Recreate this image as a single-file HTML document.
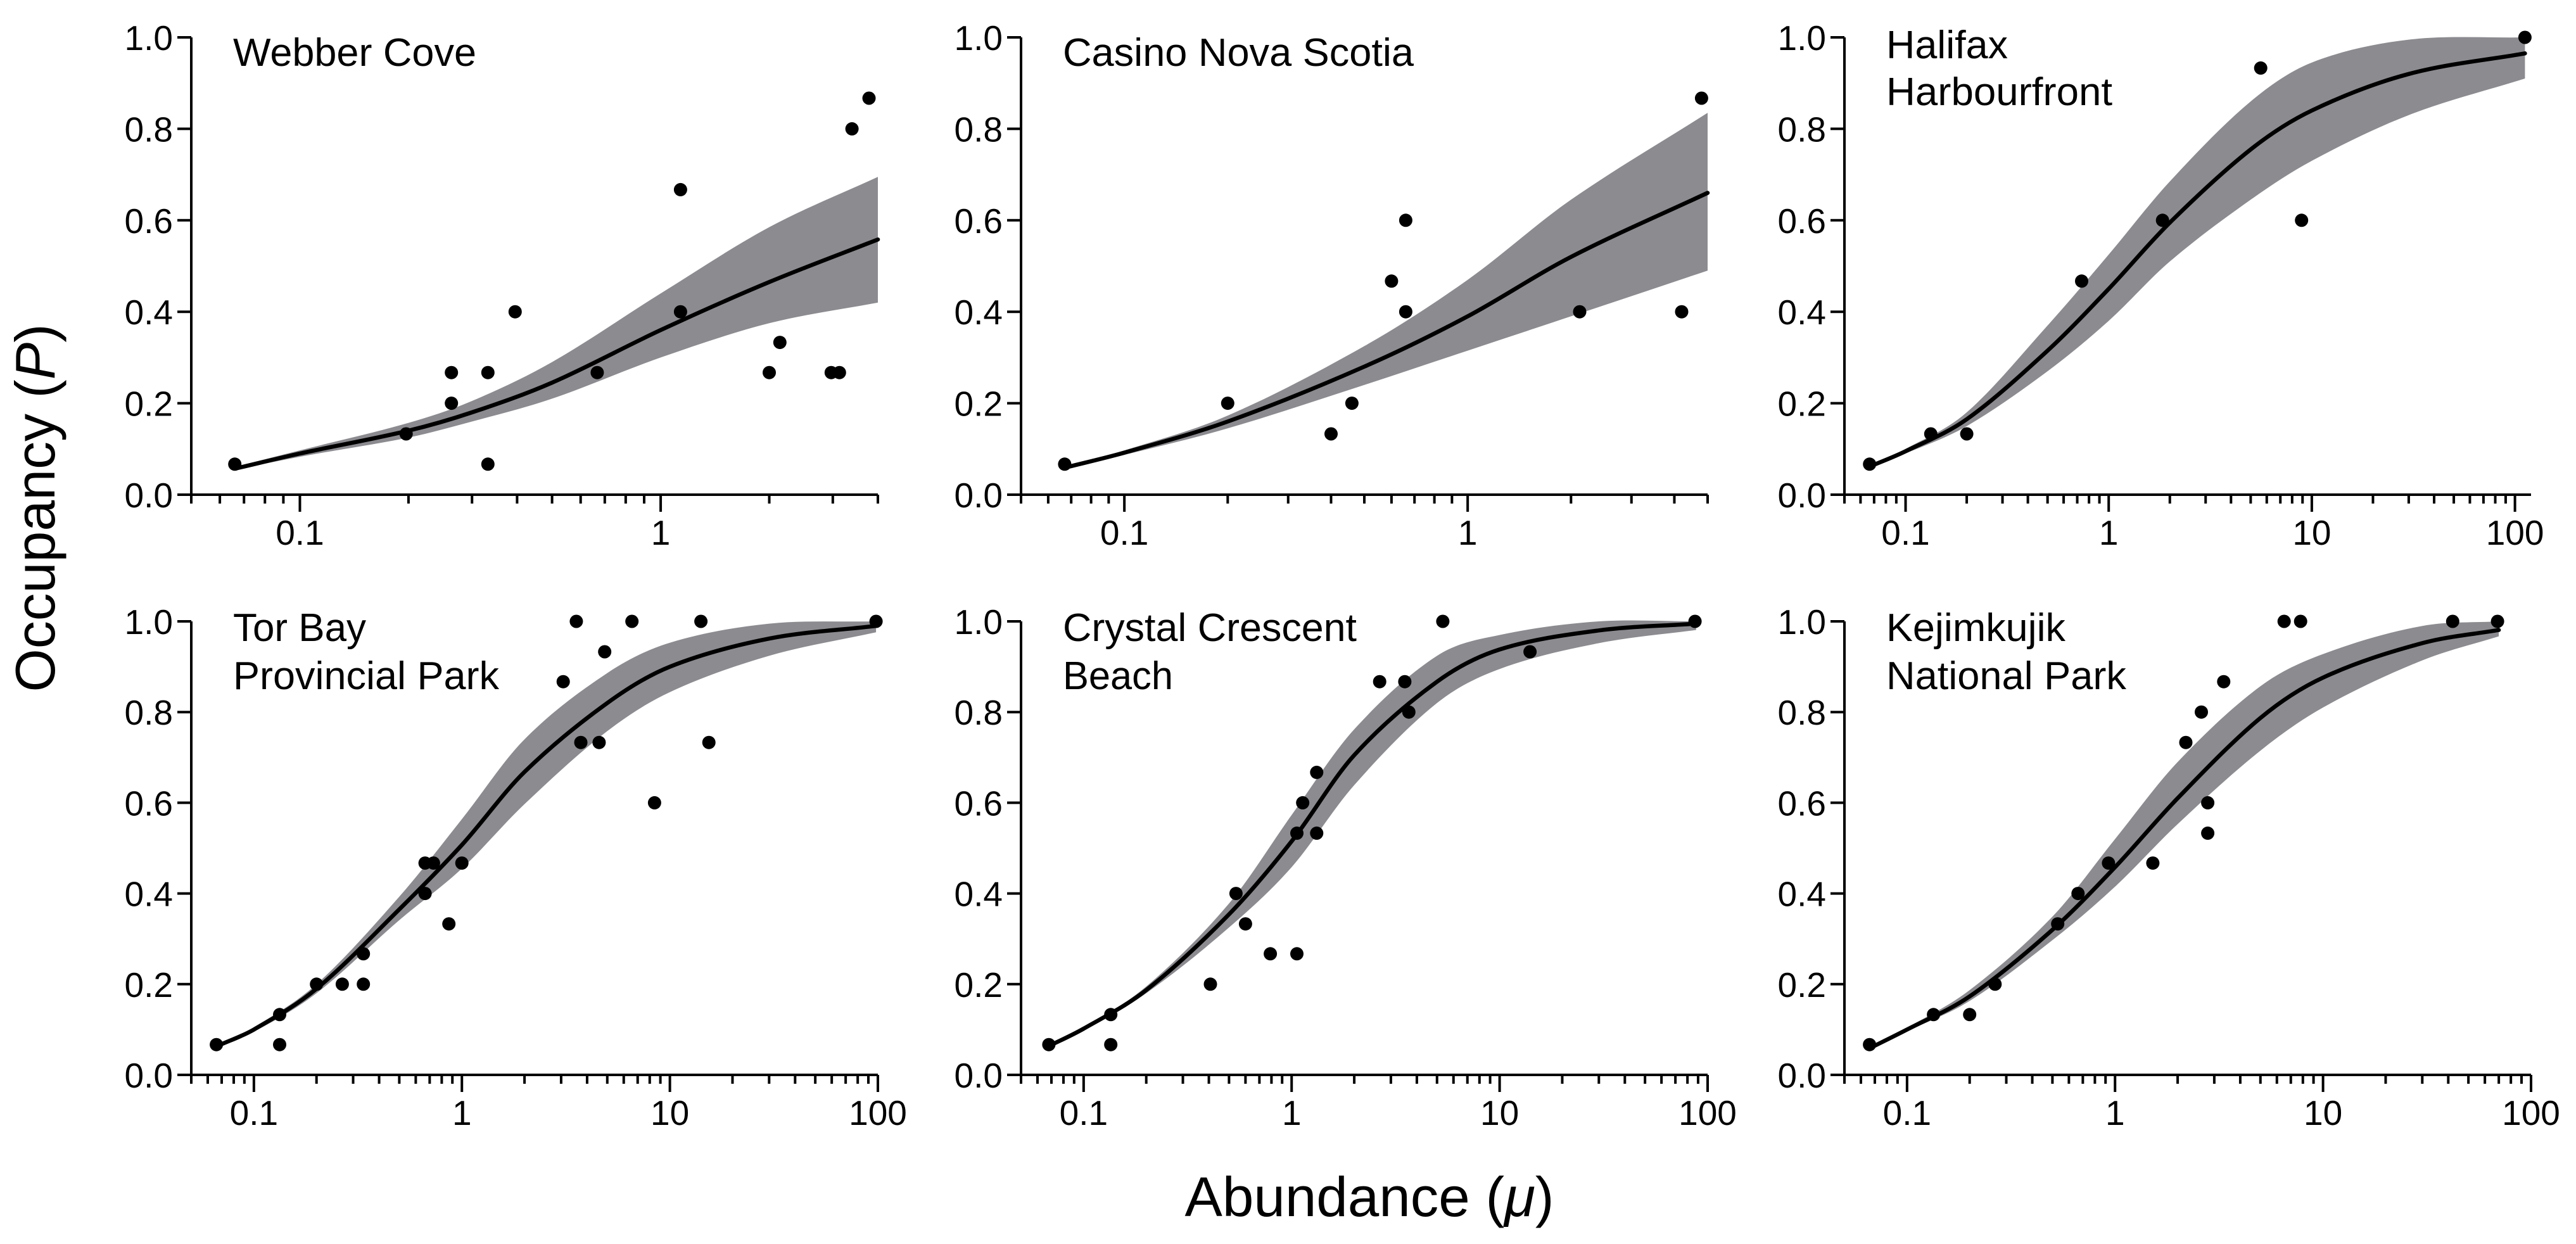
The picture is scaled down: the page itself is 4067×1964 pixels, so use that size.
<!DOCTYPE html>
<html><head><meta charset="utf-8"><title>Occupancy vs Abundance</title>
<style>
html,body{margin:0;padding:0;background:#fff;}
svg{display:block;font-family:"Liberation Sans",Arial,sans-serif;}
</style></head>
<body>
<svg id="fig" width="4067" height="1964" viewBox="0 0 4067 1964" xmlns="http://www.w3.org/2000/svg">
<rect x="0" y="0" width="4067" height="1964" fill="#fff"/>
<text x="0" y="0" font-size="88" text-anchor="middle" textLength="581" lengthAdjust="spacingAndGlyphs" transform="translate(86,802) rotate(-90)">Occupancy (<tspan font-style="italic">P</tspan>)</text>
<text x="2162" y="1920" font-size="88" text-anchor="middle" textLength="583" lengthAdjust="spacingAndGlyphs">Abundance (<tspan font-style="italic">μ</tspan>)</text>
</svg>
<script>
// ---- Data ----
const titlesWebber = ["Webber Cove"];
const titlesCasino = ["Casino Nova Scotia"];
const titlesHalifax = ["Halifax", "Harbourfront"];
const titlesTor = ["Tor Bay", "Provincial Park"];
const titlesCrystal = ["Crystal Crescent", "Beach"];
const titlesKeji = ["Kejimkujik", "National Park"];

const yTickValues = [0, 0.2, 0.4, 0.6, 0.8, 1.0];
const yTickLabels = ["0.0", "0.2", "0.4", "0.6", "0.8", "1.0"];
const xMajorValues = [0.1, 1, 10, 100];
const xMajorLabels = ["0.1", "1", "10", "100"];

// Webber Cove
const webberPtsX = [0.066,0.197,0.263,0.263,0.332,0.332,0.395,0.667,1.135,1.135,2.0,2.14,2.97,3.13,3.39,3.78];
const webberPtsY = [0.0667,0.133,0.267,0.2,0.267,0.0667,0.4,0.267,0.667,0.4,0.267,0.333,0.267,0.267,0.8,0.867];
const webberCurveX = [0.067,0.1,0.2,0.3,0.5,1,2,4];
const webberFit = [0.058,0.09,0.14,0.18,0.245,0.36,0.465,0.558];
const webberUpper = [0.062,0.097,0.157,0.205,0.29,0.44,0.585,0.695];
const webberLower = [0.055,0.083,0.125,0.16,0.21,0.30,0.375,0.42];

// Casino Nova Scotia
const casinoPtsX = [0.067,0.2,0.4,0.46,0.6,0.66,0.66,2.12,4.2,4.8];
const casinoPtsY = [0.0667,0.2,0.133,0.2,0.467,0.6,0.4,0.4,0.4,0.867];
const casinoCurveX = [0.067,0.1,0.2,0.5,1,2,5];
const casinoFit = [0.059,0.092,0.16,0.28,0.39,0.52,0.66];
const casinoUpper = [0.062,0.097,0.173,0.325,0.47,0.645,0.835];
const casinoLower = [0.056,0.087,0.145,0.24,0.315,0.39,0.49];

// Halifax Harbourfront
const halifaxPtsX = [0.0665,0.133,0.2,0.736,1.84,5.6,8.9,112];
const halifaxPtsY = [0.0667,0.133,0.133,0.467,0.6,0.933,0.6,1.0];
const halifaxCurveX = [0.067,0.1,0.2,0.5,1,2,5,10,30,112];
const halifaxFit = [0.062,0.095,0.165,0.315,0.45,0.595,0.755,0.84,0.92,0.965];
const halifaxUpper = [0.064,0.10,0.18,0.37,0.525,0.685,0.86,0.945,0.995,1.0];
const halifaxLower = [0.06,0.09,0.15,0.27,0.38,0.51,0.645,0.73,0.83,0.91];

// Tor Bay Provincial Park
const torPtsX = [0.066,0.133,0.133,0.2,0.266,0.336,0.336,0.665,0.73,0.665,0.866,1.0,3.07,3.55,3.73,4.57,4.86,6.57,8.44,14.1,15.4,98];
const torPtsY = [0.0667,0.133,0.0667,0.2,0.2,0.267,0.2,0.467,0.467,0.4,0.333,0.467,0.867,1.0,0.733,0.733,0.933,1.0,0.6,1.0,0.733,1.0];
const torCurveX = [0.067,0.1,0.2,0.5,1,2,5,10,30,98];
const torFit = [0.064,0.1,0.19,0.365,0.507,0.668,0.82,0.9,0.962,0.99];
const torUpper = [0.066,0.105,0.2,0.393,0.564,0.74,0.886,0.953,0.995,1.0];
const torLower = [0.062,0.095,0.18,0.341,0.455,0.597,0.758,0.844,0.924,0.976];

// Crystal Crescent Beach
const crystalPtsX = [0.068,0.135,0.135,0.407,0.54,0.6,0.79,1.06,1.06,1.13,1.32,1.32,2.65,3.5,3.66,5.33,14,87];
const crystalPtsY = [0.0667,0.133,0.0667,0.2,0.4,0.333,0.267,0.533,0.267,0.6,0.667,0.533,0.867,0.867,0.8,1.0,0.933,1.0];
const crystalCurveX = [0.067,0.1,0.2,0.5,1,2,5,10,30,88];
const crystalFit = [0.062,0.102,0.187,0.354,0.515,0.705,0.867,0.938,0.98,0.995];
const crystalUpper = [0.064,0.105,0.195,0.378,0.573,0.762,0.924,0.97,1.0,1.0];
const crystalLower = [0.06,0.098,0.18,0.325,0.458,0.639,0.82,0.895,0.952,0.981];

// Kejimkujik National Park
const kejiPtsX = [0.066,0.134,0.2,0.265,0.53,0.664,0.93,1.52,2.19,2.6,2.79,2.79,3.33,6.5,7.8,42,69];
const kejiPtsY = [0.0667,0.133,0.133,0.2,0.333,0.4,0.467,0.467,0.733,0.8,0.6,0.533,0.867,1.0,1.0,1.0,1.0];
const kejiCurveX = [0.067,0.1,0.2,0.5,1,2,5,10,30,70];
const kejiFit = [0.06,0.1,0.173,0.32,0.458,0.61,0.787,0.876,0.952,0.981];
const kejiUpper = [0.062,0.104,0.187,0.349,0.52,0.69,0.857,0.928,0.99,1.0];
const kejiLower = [0.058,0.096,0.163,0.297,0.415,0.553,0.715,0.81,0.914,0.967];

// ---- Layout ----
const NS = "http://www.w3.org/2000/svg";
const svg = document.getElementById("fig");
const PW = 1084;
const panels = [
  {name:"webber-cove", left:302, top:59, bottom:781, xmax:4, titles:titlesWebber, tb:[104], px:webberPtsX, py:webberPtsY, cx:webberCurveX, fit:webberFit, up:webberUpper, lo:webberLower},
  {name:"casino-nova-scotia", left:1612, top:59, bottom:781, xmax:5, titles:titlesCasino, tb:[104], px:casinoPtsX, py:casinoPtsY, cx:casinoCurveX, fit:casinoFit, up:casinoUpper, lo:casinoLower},
  {name:"halifax-harbourfront", left:2912, top:59, bottom:781, xmax:120, titles:titlesHalifax, tb:[92,166], px:halifaxPtsX, py:halifaxPtsY, cx:halifaxCurveX, fit:halifaxFit, up:halifaxUpper, lo:halifaxLower},
  {name:"tor-bay", left:302, top:981, bottom:1697, xmax:100, titles:titlesTor, tb:[1012,1088], px:torPtsX, py:torPtsY, cx:torCurveX, fit:torFit, up:torUpper, lo:torLower},
  {name:"crystal-crescent", left:1612, top:981, bottom:1697, xmax:100, titles:titlesCrystal, tb:[1012,1088], px:crystalPtsX, py:crystalPtsY, cx:crystalCurveX, fit:crystalFit, up:crystalUpper, lo:crystalLower},
  {name:"kejimkujik", left:2912, top:981, bottom:1697, xmax:100, titles:titlesKeji, tb:[1012,1088], px:kejiPtsX, py:kejiPtsY, cx:kejiCurveX, fit:kejiFit, up:kejiUpper, lo:kejiLower}
];
const titleWidths = {"Webber Cove":384,"Casino Nova Scotia":554,"Halifax":192,"Harbourfront":357,"Tor Bay":210,"Provincial Park":420,"Crystal Crescent":464,"Beach":174,"Kejimkujik":283,"National Park":379};
const XMIN = 0.05;

function mk(tag, attrs, parent){
  const e = document.createElementNS(NS, tag);
  for (const k in attrs) e.setAttribute(k, attrs[k]);
  parent.appendChild(e);
  return e;
}
// Monotone-x cubic Hermite through points (x increasing or decreasing), returns segments without M
function hermiteSegs(pts){
  const n = pts.length;
  const m = [];
  for (let i=0;i<n;i++){
    const a = pts[Math.max(0,i-1)], b = pts[Math.min(n-1,i+1)];
    m.push((b[1]-a[1])/(b[0]-a[0]));
  }
  let d = "";
  for (let i=0;i<n-1;i++){
    const p1=pts[i], p2=pts[i+1], dx=(p2[0]-p1[0])/3;
    d += " C"+(p1[0]+dx).toFixed(1)+","+(p1[1]+m[i]*dx).toFixed(1)+" "+(p2[0]-dx).toFixed(1)+","+(p2[1]-m[i+1]*dx).toFixed(1)+" "+p2[0].toFixed(1)+","+p2[1].toFixed(1);
  }
  return d;
}
function spline(pts){
  return "M" + pts[0][0].toFixed(1) + "," + pts[0][1].toFixed(1) + hermiteSegs(pts);
}

panels.forEach(p => {
  const g = mk("g", {}, svg);
  
  
  const lmin = Math.log10(XMIN), lmax = Math.log10(p.xmax);
  const xs = v => p.left + (Math.log10(v) - lmin) / (lmax - lmin) * PW;
  const ys = v => p.bottom - v * (p.bottom - p.top);

  const upPts = p.cx.map((v,i)=>[xs(v), ys(Math.min(1,p.up[i]))]);
  const loPts = p.cx.map((v,i)=>[xs(v), ys(p.lo[i])]).reverse();
  const bd = spline(upPts) + " L" + loPts[0][0].toFixed(1) + "," + loPts[0][1].toFixed(1) + hermiteSegs(loPts) + " Z";
  const band = mk("path", {d:bd, fill:"#8c8b90", stroke:"none"}, g);
  
  

  const fitPts = p.cx.map((v,i)=>[xs(v), ys(p.fit[i])]);
  const fl = mk("path", {d:spline(fitPts), fill:"none", stroke:"#000", "stroke-width":6.5, "stroke-linecap":"round"}, g);
  
  

  p.px.forEach((v,i)=>{
    const c = mk("circle", {cx:xs(v).toFixed(1), cy:ys(p.py[i]).toFixed(1), r:10.5, fill:"#000"}, g);
    
    
  });

  const ax = mk("path", {d:"M"+p.left+","+p.top+" L"+p.left+","+p.bottom+" L"+(p.left+PW)+","+p.bottom, fill:"none", stroke:"#000", "stroke-width":4}, g);
  
  

  yTickValues.forEach((v,i)=>{
    const y = ys(v);
    const t = mk("line", {x1:p.left-22, x2:p.left, y1:y, y2:y, stroke:"#000", "stroke-width":4}, g);
    
    
    const tl = mk("text", {x:p.left-29, y:y+20, "font-size":55, "text-anchor":"end"}, g);
    tl.textContent = yTickLabels[i];
    
    
  });

  const st = mk("line", {x1:p.left, x2:p.left, y1:p.bottom, y2:p.bottom+14, stroke:"#000", "stroke-width":4}, g);
  
  
  for (let dec=0.01; dec<=p.xmax*1.0001; dec*=10){
    for (let m=1; m<=9; m++){
      const v = dec*m;
      if (v <= XMIN*1.0001 || v > p.xmax*1.0001) continue;
      const major = (m===1);
      const x = xs(v);
      const t = mk("line", {x1:x, x2:x, y1:p.bottom, y2:p.bottom+(major?27:14), stroke:"#000", "stroke-width":4}, g);
      
      
    }
  }
  xMajorValues.forEach((v,i)=>{
    if (v > p.xmax*1.0001) return;
    const tl = mk("text", {x:xs(v), y:p.bottom+79, "font-size":55, "text-anchor":"middle"}, g);
    tl.textContent = xMajorLabels[i];
    
    
  });

  p.titles.forEach((s,i)=>{
    const tt = mk("text", {x:p.left+66, y:p.tb[i], "font-size":62, textLength:titleWidths[s], lengthAdjust:"spacingAndGlyphs"}, g);
    tt.textContent = s;
    
    
  });
});
</script>
</body></html>
